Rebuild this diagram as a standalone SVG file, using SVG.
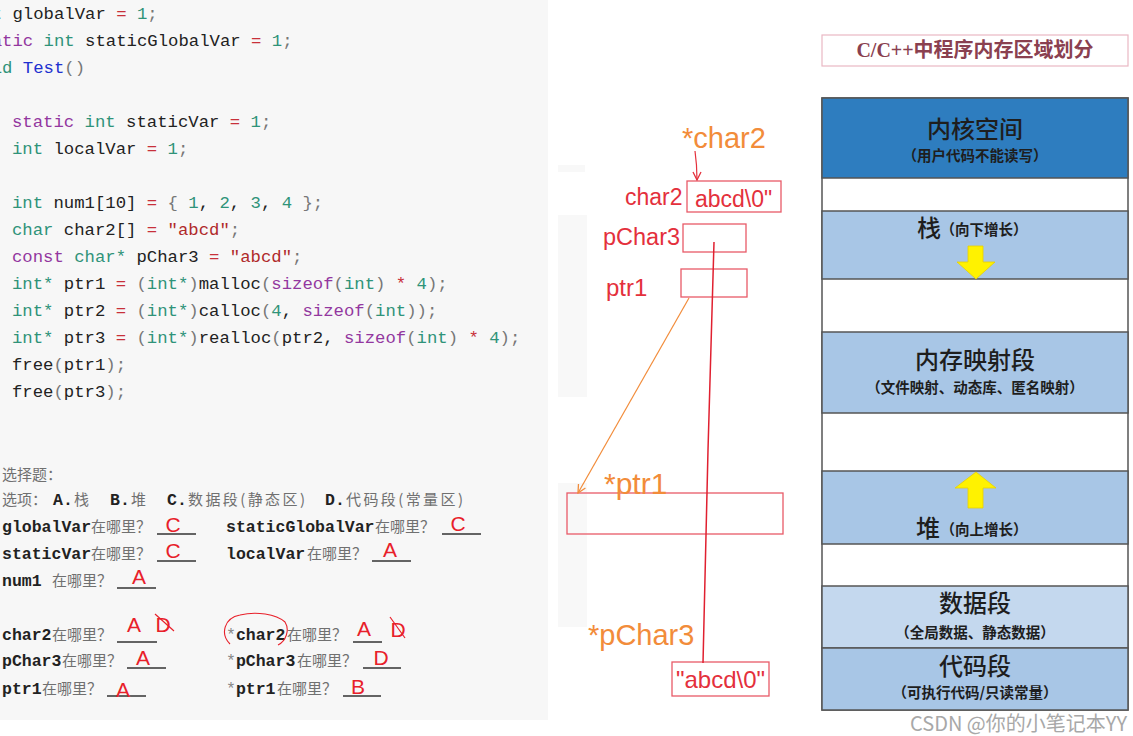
<svg xmlns="http://www.w3.org/2000/svg" width="1133" height="736" viewBox="0 0 1133 736">
<defs>
<style>
.code{font-family:"Liberation Mono","DejaVu Sans Mono",monospace;font-size:17.3px;fill:#222;white-space:pre}
.kw{fill:#2f9379}.st{fill:#93379f}.op{fill:#c8303a}.nm{fill:#2f9379}.str{fill:#b02a2a}.fn{fill:#2030d0}.pu{fill:#777}
.qa{font-family:"Liberation Mono","DejaVu Sans Mono",monospace;font-size:16.5px;fill:#222;font-weight:bold}
.qc{font-family:"Noto Sans CJK SC","Noto Sans",sans-serif;font-size:15px;fill:#707070}
.ans{font-family:"Liberation Sans","Noto Sans",sans-serif;font-size:21px;fill:#e8202a;text-anchor:middle}
.ul{stroke:#333;stroke-width:1.5}
.rt{font-family:"Liberation Sans","Noto Sans",sans-serif;fill:#e4303c}
.ot{font-family:"Liberation Sans","Noto Sans",sans-serif;fill:#f28c3a}
.rbox{fill:none;stroke:#e85a68;stroke-width:1.3}
.seg{stroke:#555;stroke-width:1.5}
.big{font-family:"Noto Sans CJK SC",sans-serif;font-size:24px;fill:#1e1e1e;text-anchor:middle;font-weight:500}
.sub{font-family:"Noto Sans CJK SC",sans-serif;font-size:14.5px;fill:#1e1e1e;text-anchor:middle;font-weight:bold}
.yel{fill:#fff200;stroke:#e8d000;stroke-width:0.8}
</style>
<marker id="ahO" markerWidth="10" markerHeight="10" refX="9" refY="5" orient="auto" markerUnits="userSpaceOnUse">
<path d="M1,1 L9,5 L1,9" fill="none" stroke="#f28c3a" stroke-width="1.3"/>
</marker>
<marker id="ahR" markerWidth="10" markerHeight="10" refX="9" refY="5" orient="auto" markerUnits="userSpaceOnUse">
<path d="M1,1 L9,5 L1,9" fill="none" stroke="#e4303c" stroke-width="1.3"/>
</marker>
</defs>
<rect width="1133" height="736" fill="#ffffff"/>
<rect x="0" y="0" width="548" height="720" fill="#f7f7f7"/>
<rect x="558" y="165" width="27" height="7" fill="#f8f8f8"/>
<rect x="558" y="215" width="29" height="182" fill="#f8f8f8"/>
<rect x="558" y="483" width="29" height="144" fill="#f8f8f8"/>

<g id="code">
<text class="code" x="-29" y="19"><tspan class="kw">int</tspan> globalVar <tspan class="op">=</tspan> <tspan class="nm">1</tspan><tspan class="pu">;</tspan></text>
<text class="code" x="-29" y="46"><tspan class="st">static</tspan> <tspan class="kw">int</tspan> staticGlobalVar <tspan class="op">=</tspan> <tspan class="nm">1</tspan><tspan class="pu">;</tspan></text>
<text class="code" x="-29" y="73"><tspan class="kw">void</tspan> <tspan class="fn">Test</tspan><tspan class="pu">()</tspan></text>
<text class="code" x="12" y="127"><tspan class="st">static</tspan> <tspan class="kw">int</tspan> staticVar <tspan class="op">=</tspan> <tspan class="nm">1</tspan><tspan class="pu">;</tspan></text>
<text class="code" x="12" y="154"><tspan class="kw">int</tspan> localVar <tspan class="op">=</tspan> <tspan class="nm">1</tspan><tspan class="pu">;</tspan></text>
<text class="code" x="12" y="208"><tspan class="kw">int</tspan> num1[10] <tspan class="op">=</tspan> <tspan class="pu">{</tspan> <tspan class="nm">1</tspan>, <tspan class="nm">2</tspan>, <tspan class="nm">3</tspan>, <tspan class="nm">4</tspan> <tspan class="pu">};</tspan></text>
<text class="code" x="12" y="235"><tspan class="kw">char</tspan> char2[] <tspan class="op">=</tspan> <tspan class="str">"abcd"</tspan><tspan class="pu">;</tspan></text>
<text class="code" x="12" y="262"><tspan class="st">const</tspan> <tspan class="kw">char*</tspan> pChar3 <tspan class="op">=</tspan> <tspan class="str">"abcd"</tspan><tspan class="pu">;</tspan></text>
<text class="code" x="12" y="289"><tspan class="kw">int*</tspan> ptr1 <tspan class="op">=</tspan> <tspan class="pu">(</tspan><tspan class="kw">int*</tspan><tspan class="pu">)</tspan>malloc<tspan class="pu">(</tspan><tspan class="st">sizeof</tspan><tspan class="pu">(</tspan><tspan class="kw">int</tspan><tspan class="pu">)</tspan> <tspan class="op">*</tspan> <tspan class="nm">4</tspan><tspan class="pu">);</tspan></text>
<text class="code" x="12" y="316"><tspan class="kw">int*</tspan> ptr2 <tspan class="op">=</tspan> <tspan class="pu">(</tspan><tspan class="kw">int*</tspan><tspan class="pu">)</tspan>calloc<tspan class="pu">(</tspan><tspan class="nm">4</tspan>, <tspan class="st">sizeof</tspan><tspan class="pu">(</tspan><tspan class="kw">int</tspan><tspan class="pu">));</tspan></text>
<text class="code" x="12" y="343"><tspan class="kw">int*</tspan> ptr3 <tspan class="op">=</tspan> <tspan class="pu">(</tspan><tspan class="kw">int*</tspan><tspan class="pu">)</tspan>realloc<tspan class="pu">(</tspan>ptr2, <tspan class="st">sizeof</tspan><tspan class="pu">(</tspan><tspan class="kw">int</tspan><tspan class="pu">)</tspan> <tspan class="op">*</tspan> <tspan class="nm">4</tspan><tspan class="pu">);</tspan></text>
<text class="code" x="12" y="370">free<tspan class="pu">(</tspan>ptr1<tspan class="pu">);</tspan></text>
<text class="code" x="12" y="397">free<tspan class="pu">(</tspan>ptr3<tspan class="pu">);</tspan></text>
</g>

<g id="questions">
<text class="qc" x="2" y="480">选择题：</text>
<text class="qc" x="2" y="505">选项：</text>
<text class="qa" x="53" y="505">A.</text><text class="qc" x="74" y="505">栈</text>
<text class="qa" x="110" y="505">B.</text><text class="qc" x="131" y="505">堆</text>
<text class="qa" x="167" y="505">C.</text><text class="qc" x="188" y="505" textLength="117" lengthAdjust="spacing">数据段(静态区)</text>
<text class="qa" x="325" y="505">D.</text><text class="qc" x="346" y="505" textLength="117" lengthAdjust="spacing">代码段(常量区)</text>

<text class="qa" x="2" y="532">globalVar</text><text class="qc" x="91" y="532">在哪里？</text>
<line class="ul" x1="157" y1="534" x2="196" y2="534"/><text class="ans" x="173" y="532">C</text>
<text class="qa" x="226" y="532">staticGlobalVar</text><text class="qc" x="375" y="532">在哪里？</text>
<line class="ul" x1="442" y1="534" x2="481" y2="534"/><text class="ans" x="458" y="531">C</text>

<text class="qa" x="2" y="559">staticVar</text><text class="qc" x="91" y="559">在哪里？</text>
<line class="ul" x1="157" y1="561" x2="196" y2="561"/><text class="ans" x="173" y="558">C</text>
<text class="qa" x="226" y="559">localVar</text><text class="qc" x="307" y="559">在哪里？</text>
<line class="ul" x1="372" y1="561" x2="411" y2="561"/><text class="ans" x="390" y="557">A</text>

<text class="qa" x="2" y="586">num1</text><text class="qc" x="52" y="586">在哪里？</text>
<line class="ul" x1="117" y1="588" x2="156" y2="588"/><text class="ans" x="139" y="584">A</text>

<text class="qa" x="2" y="640">char2</text><text class="qc" x="52" y="640">在哪里？</text>
<line class="ul" x1="117" y1="642" x2="157" y2="642"/><text class="ans" x="134" y="632">A</text>
<text class="ans" x="163" y="632">D</text>
<path d="M155,614 L174,631" stroke="#e8202a" stroke-width="1.2" fill="none"/>
<text class="qa" x="226" y="640"><tspan fill="#888" font-weight="normal">*</tspan>char2</text><text class="qc" x="287" y="640">在哪里？</text>
<line class="ul" x1="353" y1="642" x2="382" y2="642"/><text class="ans" x="364" y="636">A</text>
<text class="ans" x="398" y="637">D</text>
<path d="M390,617 L405,638" stroke="#e8202a" stroke-width="1.2" fill="none"/>
<path d="M230,644 C220,634 224,618 240,615 C256,611 276,614 285,622 C290,630 286,641 278,645" stroke="#e8202a" stroke-width="1.1" fill="none"/>

<text class="qa" x="2" y="666">pChar3</text><text class="qc" x="62" y="666">在哪里？</text>
<line class="ul" x1="127" y1="668" x2="166" y2="668"/><text class="ans" x="143" y="665">A</text>
<text class="qa" x="226" y="666"><tspan fill="#888" font-weight="normal">*</tspan>pChar3</text><text class="qc" x="297" y="666">在哪里？</text>
<line class="ul" x1="363" y1="668" x2="401" y2="668"/><text class="ans" x="381" y="665">D</text>

<text class="qa" x="2" y="694">ptr1</text><text class="qc" x="42" y="694">在哪里？</text>
<line class="ul" x1="107" y1="696" x2="146" y2="696"/><text class="ans" x="123" y="697">A</text>
<text class="qa" x="226" y="694"><tspan fill="#888" font-weight="normal">*</tspan>ptr1</text><text class="qc" x="277" y="694">在哪里？</text>
<line class="ul" x1="343" y1="696" x2="381" y2="696"/><text class="ans" x="358" y="694">B</text>
</g>

<g id="node-char2">
<text class="ot" x="682" y="148" font-size="29">*char2</text>
<text class="rt" x="625" y="205" font-size="23">char2</text>
<rect class="rbox" x="687" y="181" width="94" height="31"/>
<text class="rt" x="695" y="207" font-size="23">abcd\0"</text>
</g>
<g id="node-pChar3">
<text class="rt" x="603" y="245" font-size="23.5">pChar3</text>
<rect class="rbox" x="683" y="224" width="63" height="28"/>
</g>
<g id="node-ptr1">
<text class="rt" x="606" y="296" font-size="24">ptr1</text>
<rect class="rbox" x="681" y="269" width="66" height="28"/>
</g>
<g id="node-heapblock">
<rect class="rbox" x="567" y="493" width="216" height="41"/>
<text class="ot" x="604" y="494" font-size="30">*ptr1</text>
</g>
<g id="node-literal">
<text class="ot" x="588" y="645" font-size="29">*pChar3</text>
<rect class="rbox" x="672" y="662" width="97" height="34"/>
<text class="rt" x="676" y="688" font-size="24">"abcd\0"</text>
</g>

<g id="connectors">
<path d="M695,151 Q697,165 697,180" stroke="#e4303c" stroke-width="1.2" fill="none" marker-end="url(#ahR)"/>
<path d="M714,242 L708,450 L703,663" stroke="#e02030" stroke-width="1.5" fill="none"/>
<path d="M689,298 L578,493" stroke="#f28c3a" stroke-width="1.2" fill="none" marker-end="url(#ahO)"/>
</g>

<g id="title">
<rect x="822" y="35" width="306" height="31" fill="#fff" stroke="#eab8c4" stroke-width="1.2"/>
<text x="975" y="57" text-anchor="middle" font-family="Liberation Serif,Noto Sans CJK SC,serif" font-size="20" font-weight="bold" fill="#8a4050">C/C++中程序内存区域划分</text>
</g>

<g id="memory">
<rect x="822" y="98" width="306" height="612" fill="#fff" stroke="#555" stroke-width="1.5"/>
<g id="seg-kernel">
<rect x="822" y="98" width="306" height="80" fill="#2e7dbf" class="seg"/>
<text class="big" x="975" y="138">内核空间</text>
<text class="sub" x="975" y="161">（用户代码不能读写）</text>
</g>
<g id="seg-stack">
<rect x="822" y="211" width="306" height="68" fill="#a8c6e6" class="seg"/>
<text class="big" x="929" y="237">栈</text>
<text class="sub" x="984" y="235">（向下增长）</text>
<polygon class="yel" points="968,246 983,246 983,262 995,262 976,279 957,262 968,262"/>
</g>
<g id="seg-mmap">
<rect x="822" y="332" width="306" height="81" fill="#a8c6e6" class="seg"/>
<text class="big" x="975" y="369">内存映射段</text>
<text class="sub" x="975" y="393">（文件映射、动态库、匿名映射）</text>
</g>
<g id="seg-heap">
<rect x="822" y="471" width="306" height="73" fill="#a8c6e6" class="seg"/>
<polygon class="yel" points="976,472 996,488 983,488 983,508 968,508 968,488 955,488"/>
<text class="big" x="928" y="537">堆</text>
<text class="sub" x="984" y="535">（向上增长）</text>
</g>
<g id="seg-data">
<rect x="822" y="586" width="306" height="62" fill="#c4d8ee" class="seg"/>
<text class="big" x="975" y="612">数据段</text>
<text class="sub" x="975" y="638">（全局数据、静态数据）</text>
</g>
<g id="seg-code">
<rect x="822" y="648" width="306" height="62" fill="#a8c6e6" class="seg"/>
<text class="big" x="975" y="675">代码段</text>
<text class="sub" x="975" y="698">（可执行代码/只读常量）</text>
</g>
</g>

<text x="1127" y="731" text-anchor="end" font-family="Noto Sans CJK SC,sans-serif" font-size="20" fill="#a8a8a8" stroke="#fff" stroke-width="3" paint-order="stroke">CSDN @你的小笔记本YY</text>
</svg>
